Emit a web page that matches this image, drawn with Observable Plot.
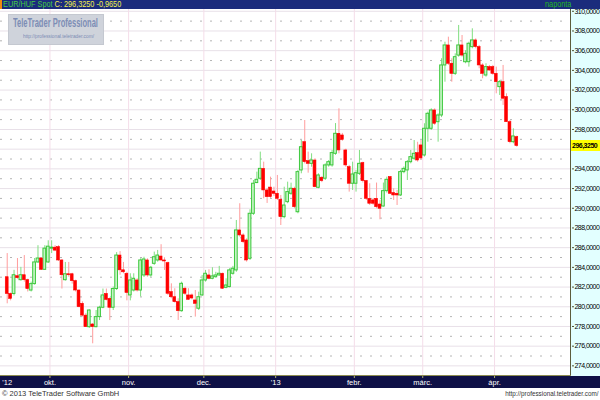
<!DOCTYPE html>
<html><head><meta charset="utf-8">
<script src="https://cdn.jsdelivr.net/npm/d3@7"></script>
<script src="https://cdn.jsdelivr.net/npm/@observablehq/plot@0.6"></script>
<style>
body{margin:0;background:#fff;}
#wrap{position:relative;width:600px;height:400px;overflow:hidden;font-family:"Liberation Sans",Arial,sans-serif;background:#fff;}
.layer{position:absolute;}
#chart{position:absolute;left:0;top:0;z-index:1;}
#chart svg g[aria-label="y-axis tick label"] text{letter-spacing:-0.55px;}
.ov{position:absolute;z-index:2;white-space:nowrap;}
</style></head><body>
<div id="wrap">
  <div class="layer" style="left:0;top:0;width:600px;height:9px;background:#1b2c7c;"></div>
  <div class="layer" style="left:0;top:0;width:2px;height:9px;background:#f08a10;z-index:3"></div>
  <div class="layer" style="left:571px;top:9px;width:29px;height:367px;background:#e2ffff;"></div>
  <div class="layer" style="left:0;top:376px;width:600px;height:12px;background:#0e1046;"></div>
  <div class="layer" style="left:570px;top:9px;width:1px;height:367px;background:#5c5c3c;z-index:2"></div>
  <div class="layer" style="left:0;top:375px;width:571px;height:1px;background:#8c8c50;z-index:2"></div>
  <div id="chart"></div>
</div>
<script>
// Daily EUR/HUF Spot candles, index 0 = first session shown (mid-Sept 2012)
const opens = [
283.0,281.3,281.3,283.1,282.7,283.2,282.7,281.65,282.3,284.5,
284.9,283.75,284.5,285.9,286.0,286.05,284.7,282.7,283.3,283.3,
282.6,281.65,280.3,279.1,277.93,278.2,277.93,278.95,279.9,281.3,
280.8,279.9,281.8,285.2,283.7,283.35,281.15,281.65,282.67,281.65,
283.18,284.7,283.18,284.36,284.7,285.1,284.7,284.43,281.48,280.97,
280.47,279.55,281.83,281.15,281.15,280.64,279.8,281.15,282.67,283.18,
282.84,283.0,283.18,283.35,281.92,282.0,283.35,283.69,287.75,287.24,
286.73,284.87,289.44,292.56,293.0,294.0,291.81,292.1,291.7,291.47,
290.86,289.1,290.62,291.47,291.98,289.6,293.84,296.71,294.78,294.51,
294.85,292.08,293.1,293.0,294.35,294.35,295.53,297.56,297.39,295.87,
294.17,292.49,292.49,293.5,294.58,292.76,290.96,290.8,290.96,290.38,
290.18,291.74,293.16,291.54,291.47,291.3,293.67,293.84,294.68,295.03,
295.6,296.38,295.36,298.07,298.07,299.93,298.74,299.42,304.5,306.53,
304.67,303.65,305.5,306.53,304.83,304.83,306.36,307.04,306.36,304.5,
303.48,304.33,304.33,303.65,302.3,302.8,301.28,298.74,296.71,297.22];
const highs = [
285.4,281.4,283.7,284.9,284.0,285.2,282.8,282.5,284.9,286.2,
285.0,286.2,286.7,286.7,286.2,286.2,284.8,284.5,284.5,283.4,
282.7,281.7,280.5,279.3,279.7,278.3,279.62,280.05,281.8,281.8,
280.9,282.0,285.5,285.6,284.5,283.5,283.35,283.35,282.84,284.87,
285.03,284.87,284.1,285.55,285.72,286.3,284.97,284.53,282.33,281.83,
280.81,282.5,281.99,281.83,281.3,281.65,281.48,283.18,283.69,283.76,
283.96,283.5,284.1,283.42,282.84,283.86,284.1,288.76,290.46,287.41,
286.9,289.85,292.82,293.67,295.7,294.68,292.0,293.16,292.14,293.33,
291.3,292.14,292.65,292.55,292.14,293.84,296.88,298.91,295.7,295.53,
295.03,293.5,293.2,294.51,294.85,295.87,298.6,300.1,297.6,296.0,
294.35,294.68,293.84,295.87,294.68,292.82,292.49,291.0,292.56,290.79,
292.56,293.16,293.23,291.98,291.81,293.84,294.2,294.85,295.87,296.88,
296.7,296.88,298.58,299.76,300.1,300.1,299.59,305.18,306.86,307.37,
305.18,305.68,308.56,307.54,306.0,306.86,308.22,307.2,306.53,304.67,
304.67,304.5,304.5,304.33,302.97,304.5,301.62,298.91,298.07,297.32];
const lows = [
280.3,280.6,281.1,282.8,282.6,282.5,281.5,281.5,282.2,284.4,
283.7,283.7,284.4,285.4,285.6,284.6,281.8,282.6,283.0,282.3,
281.5,279.9,278.95,277.9,277.8,276.24,277.86,278.6,279.8,280.6,
278.6,279.62,281.65,283.2,283.35,280.6,280.6,281.5,281.5,281.0,
282.97,283.0,283.0,284.2,284.53,284.63,283.69,281.15,280.81,280.37,
278.61,279.45,281.15,280.64,280.7,278.95,279.62,281.05,282.5,282.74,
282.74,282.9,283.1,281.75,281.83,281.92,283.2,283.5,287.07,286.4,
284.53,284.7,289.27,292.5,292.82,290.96,290.49,291.0,291.2,290.79,
288.25,288.93,290.46,291.3,289.95,289.44,293.5,294.51,293.56,294.17,
292.08,291.98,292.6,292.82,294.17,294.17,295.37,295.53,296.8,294.17,
291.64,291.81,291.64,293.33,292.56,290.79,290.28,290.3,289.95,288.83,
290.11,291.54,291.4,290.79,290.28,291.2,293.5,292.82,294.51,294.85,
294.68,294.85,295.2,296.71,297.9,298.41,296.71,299.2,302.8,304.5,
302.8,303.48,305.34,305.34,304.67,304.33,306.19,306.19,304.16,303.15,
303.31,303.9,303.5,301.62,301.45,300.44,298.74,296.55,296.55,296.2];
const closes = [
281.3,280.8,283.2,282.9,283.2,282.7,281.8,282.3,284.5,284.9,
283.75,285.9,286.1,286.0,285.7,284.7,283.2,283.3,283.2,282.6,
281.65,279.96,279.1,277.93,279.62,277.93,278.95,279.9,281.15,280.7,
279.9,281.8,285.2,283.7,283.5,281.4,282.67,282.84,281.65,284.7,
284.8,283.18,283.96,285.03,285.2,284.7,284.6,281.32,280.97,280.47,
279.55,282.33,281.32,280.71,280.84,280.3,280.97,282.67,283.35,282.84,
283.08,283.18,283.35,281.83,282.16,283.69,283.86,287.75,287.24,286.56,
284.7,289.44,292.49,292.89,294.0,291.81,291.13,291.13,291.47,290.96,
289.1,290.28,291.64,291.98,290.11,293.67,296.2,294.68,294.51,294.85,
292.14,293.33,292.76,294.35,294.68,295.6,297.56,295.87,296.95,294.35,
292.49,293.43,293.56,294.51,292.76,290.96,290.46,290.46,290.11,289.95,
291.74,292.89,291.47,291.3,291.3,293.67,294.0,294.68,295.19,295.53,
294.85,295.06,298.07,299.59,299.93,298.58,299.42,304.5,306.53,304.67,
303.65,305.34,306.53,305.5,305.68,306.7,307.04,306.36,304.5,303.65,
304.33,303.99,303.65,302.8,302.8,301.12,298.74,296.71,297.29,296.325];

// axis labels and their session indices (first session of each month)
const monthLabels = ["okt.","nov.","dec.","'13","febr.","márc.","ápr."];
const monthStarts = [13, 36, 58, 79, 102, 122, 143];
const yearLabel = ["'12"];
const yearStart = [0];
const yTicks = [274,276,278,280,282,284,286,288,290,292,294,296,298,300,302,304,306,308,310];
const yMinor = [275,277,279,281,283,285,287,289,291,293,295,297,299,301,303,305,307,309];
const titleText = "EUR/HUF Spot";
const lastClose = 296.325;
const lastChange = -0.965;
const periodText = "naponta";

const fmt = v => v.toFixed(4).replace(".", ",");
const bars = closes.map((c, i) => ({i, o: opens[i], h: highs[i], l: lows[i], c}));
const up = bars.filter(d => d.c >= d.o);
const down = bars.filter(d => d.c < d.o);
const gridX = monthStarts.map(s => s - 0.5);

const plot = Plot.plot({
  width: 600, height: 388,
  marginTop: 9, marginBottom: 12, marginLeft: 0, marginRight: 29,
  style: {background: "transparent", fontFamily: "Liberation Sans, Arial, sans-serif", overflow: "visible"},
  x: {type: "linear", domain: [-1.96, 165], axis: null},
  y: {domain: [272.92, 310.18], axis: null},
  marks: [
    Plot.ruleY(yTicks, {stroke: "#e8e0e8"}),
    Plot.ruleY(yMinor, {stroke: "#b4b4b4", strokeDasharray: "2,8"}),
    Plot.ruleX(gridX, {stroke: "#f4dde9"}),
    Plot.ruleX(up, {x: "i", y1: "l", y2: "h", stroke: "#80de80"}),
    Plot.ruleX(down, {x: "i", y1: "l", y2: "h", stroke: "#ff9c9c"}),
    Plot.rect(up, {x1: d => d.i - 0.4, x2: d => d.i + 0.4, y1: "o", y2: "c", fill: "#c6f3c6", stroke: "#3cc83c", strokeWidth: 1}),
    Plot.rect(down, {x1: d => d.i - 0.42, x2: d => d.i + 0.42, y1: "o", y2: "c", fill: "#ff0000", stroke: "#ff0000", strokeWidth: 0.6}),
    Plot.axisY({anchor: "right", label: null, ticks: yTicks, tickSize: 2, tickPadding: 1,
      tickFormat: v => Math.abs(v - lastClose) < 1 ? "" : fmt(v), fontSize: 7, stroke: "#505030", fill: "#000"}),
    Plot.axisX({anchor: "bottom", label: null, ticks: gridX, tickSize: 2, tickPadding: 1.5,
      tickFormat: d => monthLabels[gridX.indexOf(d)], fontSize: 7.5, fill: "#fff", stroke: "#b0b070"}),
    Plot.axisX({anchor: "bottom", label: null, ticks: yearStart, tickSize: 0, tickPadding: 3.5,
      tickFormat: () => yearLabel[0], fontSize: 7.5, fill: "#fff"})
  ]
});
document.getElementById("chart").appendChild(plot);

const wrap = document.getElementById("wrap");
function ov(html, css) {
  const d = document.createElement("div");
  d.className = "ov";
  d.innerHTML = html;
  d.style.cssText += css;
  wrap.appendChild(d);
  return d;
}
// title bar
ov(`<span style="color:#44cc44">${titleText}</span>&nbsp;<span style="color:#f2f24a">C: ${fmt(lastClose)} ${fmt(lastChange)}</span>`,
   "left:3px;top:0;font-size:8.5px;line-height:9px;transform:scaleX(0.86);transform-origin:0 0;");
ov(`<span style="color:#22bb22">${periodText}</span>`,
   "left:545px;top:0;font-size:8.5px;line-height:9px;transform:scaleX(0.86);transform-origin:0 0;");
// watermark
ov("", "left:8px;top:14px;width:96px;height:31px;background:#cfd3db;border:1px solid #c4c8d0;box-sizing:border-box;");
ov("TeleTrader Professional", "left:13px;top:16px;font-size:13px;font-weight:bold;line-height:14px;color:#7d8db5;transform:scaleX(0.58);transform-origin:0 0;");
ov("http://professional.teletrader.com/", "left:23px;top:33px;font-size:6px;line-height:7px;color:#7d8db5;transform:scaleX(0.8);transform-origin:0 0;");
// last price marker on the price axis
const py = plot.scale("y").apply(lastClose);
ov(`<b>${fmt(lastClose)}</b>`, `left:571px;top:${py - 5.5}px;width:29px;height:11px;background:#ffff00;font-size:7px;line-height:11px;color:#000;letter-spacing:-0.5px;padding-left:1px;box-sizing:border-box;overflow:hidden;`);
// footer
ov("© 2013 TeleTrader Software GmbH", "left:2px;top:389px;font-size:7.5px;line-height:10px;color:#333;");
ov("http://professional.teletrader.com/", "right:2px;top:389px;font-size:7px;line-height:10px;color:#333;transform:scaleX(0.9);transform-origin:100% 0;");
</script>
</body></html>
